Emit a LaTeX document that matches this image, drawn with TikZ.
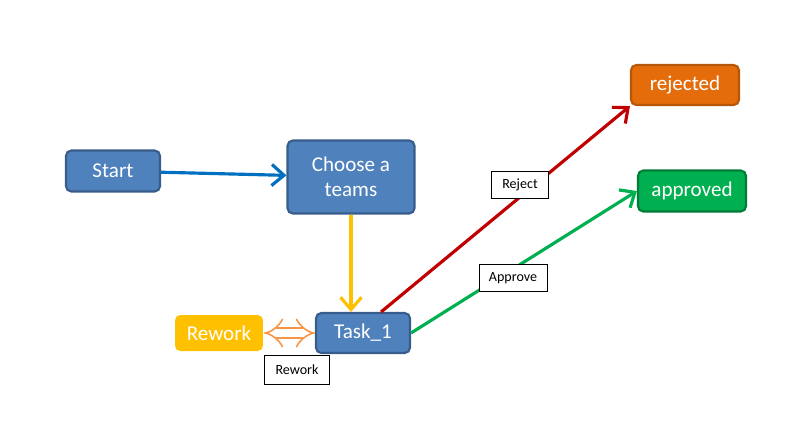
\documentclass[tikz,border=0pt]{standalone}
\usepackage{fontspec}
\setmainfont{Carlito}
\usetikzlibrary{arrows.meta}
\definecolor{boxblau}{RGB}{79,129,189}
\definecolor{randblau}{RGB}{56,93,138}
\definecolor{pfeilblau}{RGB}{0,112,192}
\definecolor{gelb}{RGB}{255,192,0}
\definecolor{orangerot}{RGB}{228,108,10}
\definecolor{gruen}{RGB}{0,176,80}
\definecolor{rot}{RGB}{192,0,0}
\definecolor{hellorange}{RGB}{247,150,70}
\tikzset{
  box/.style={draw=randblau, line width=1.2pt, rounded corners=3pt, fill=boxblau,
    text=white, font=\large, align=center, inner sep=0pt},
  marke/.style={draw=black, fill=white, font=\footnotesize, inner sep=0pt,
    minimum height=0.54cm},
  pfeil/.style={line width=1.8pt, -{Straight Barb[length=7pt,width=12pt]}}
}
\begin{document}
\begin{tikzpicture}[x=0.02cm, y=-0.02cm]
    \useasboundingbox (0,0) rectangle (808,437);
    
    % Kaesten
    \node[box, minimum width=1.88cm, minimum height=0.82cm] (start) at (113,171) {Start};
    \node[box, minimum width=2.54cm, minimum height=1.46cm] (choose) at (351,177) {Choose a\\teams};
    \node[box, minimum width=1.88cm, minimum height=0.80cm] (task) at (363,333) {Task\_1};
    \node[box, draw=none, fill=gelb, minimum width=1.76cm, minimum height=0.72cm] (rework) at (219,333) {Rework};
    \node[box, draw=orangerot!80!black, fill=orangerot, minimum width=2.16cm, minimum height=0.80cm] (rejected) at (685,85) {rejected};
    \node[box, draw=gruen!70!black, fill=gruen, minimum width=2.16cm, minimum height=0.82cm] (approved) at (692,191) {approved};
    
    % Pfeile
    \draw[pfeil, pfeilblau] (start) -- (choose);
    \draw[pfeil, gelb] (choose) -- (choose |- task.north);
    \draw[pfeil, rot] (task.north east) ++(-30,0) coordinate (ab) -- (rejected.south west);
    \draw[pfeil, gruen] (task.east) -- (approved.west);
    \draw[hellorange, line width=0.9pt, double, double distance=5pt,
      {Implies[]}-{Implies[]}] (rework) -- (task);
    
    % Beschriftungen
    \node[marke, minimum width=1.14cm] (lreject) at (520,185) {Reject};
    \node[marke, minimum width=1.36cm] (lapprove) at (513,278) {Approve};
    \node[marke, minimum width=1.30cm, minimum height=0.58cm] (lrework) at (297,370) {Rework};
\end{tikzpicture}
\end{document}
